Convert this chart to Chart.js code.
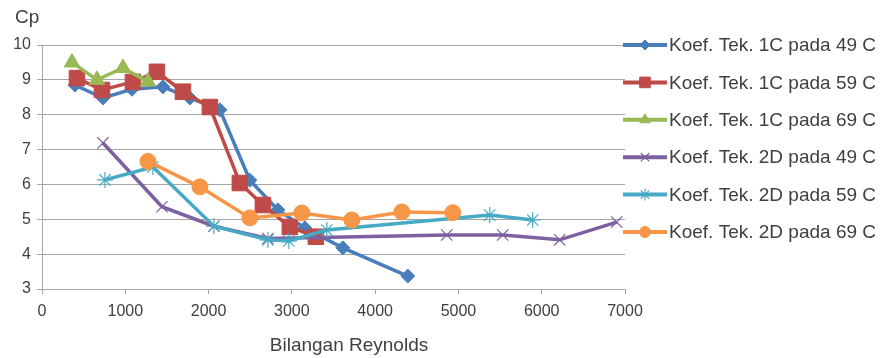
<!DOCTYPE html>
<html>
<head>
<meta charset="utf-8">
<script src="https://cdn.jsdelivr.net/npm/chart.js@4/dist/chart.umd.min.js"></script>
<style>
  body { margin: 0; background: #fff; }
</style>
</head>
<body>
<canvas id="cpChart" width="885" height="358"></canvas>
<script>
// Bilangan Reynolds (x) and Cp (y) for each series
const reyn1C49 = [396, 732, 1080, 1452, 1776, 2136, 2496, 2832, 3156, 3612, 4392];
const cp1C49 = [8.85, 8.48, 8.73, 8.8, 8.48, 8.14, 6.12, 5.27, 4.75, 4.18, 3.37];

const reyn1C59 = [420, 720, 1092, 1380, 1692, 2016, 2376, 2652, 2976, 3288];
const cp1C59 = [9.05, 8.71, 8.94, 9.23, 8.66, 8.22, 6.04, 5.41, 4.78, 4.5];

const reyn1C69 = [360, 660, 972, 1272];
const cp1C69 = [9.5, 9.0, 9.34, 8.95];

const reyn2D49 = [732, 1440, 2064, 2712, 4860, 5532, 6216, 6900];
const cp2D49 = [7.19, 5.36, 4.8, 4.45, 4.55, 4.55, 4.41, 4.92];

const reyn2D59 = [756, 1332, 2064, 2712, 2964, 3420, 5376, 5892];
const cp2D59 = [6.13, 6.5, 4.8, 4.41, 4.38, 4.69, 5.12, 4.98];

const reyn2D69 = [1272, 1896, 2496, 3120, 3720, 4320, 4932];
const cp2D69 = [6.66, 5.93, 5.04, 5.18, 4.98, 5.21, 5.19];

const seriesNames = [
  "Koef. Tek. 1C pada 49 C",
  "Koef. Tek. 1C pada 59 C",
  "Koef. Tek. 1C pada 69 C",
  "Koef. Tek. 2D pada 49 C",
  "Koef. Tek. 2D pada 59 C",
  "Koef. Tek. 2D pada 69 C"
];

const xTicks = [0, 1000, 2000, 3000, 4000, 5000, 6000, 7000];
const yTicks = [3, 4, 5, 6, 7, 8, 9, 10];
const xTitle = "Bilangan Reynolds";
const yTitle = "Cp";

const FONT = '"Liberation Sans", Arial, sans-serif';
const TEXT = "#404040";
const GRID = "#a6a6a6";

// style per series: colour, marker, marker size in plot and in legend
const styles = [
  { color: "#4a7ebb", shape: "rectRot", r: 7, lr: 5, bw: 1 },
  { color: "#be4b48", shape: "rect", r: 11, lr: 7.5, bw: 1 },
  { color: "#98b954", shape: "triangle", r: 9, lr: 6, bw: 1 },
  { color: "#7d60a0", shape: "crossRot", r: 8, lr: 6, bw: 1.2 },
  { color: "#46aac5", shape: "star", r: 8, lr: 6, bw: 1.2 },
  { color: "#f79646", shape: "circle", r: 8, lr: 5.5, bw: 1 }
];

const xsList = [reyn1C49, reyn1C59, reyn1C69, reyn2D49, reyn2D59, reyn2D69];
const ysList = [cp1C49, cp1C59, cp1C69, cp2D49, cp2D59, cp2D69];

const datasets = seriesNames.map((name, i) => {
  const st = styles[i];
  return {
    label: name,
    data: xsList[i].map((x, k) => ({ x: x, y: ysList[i][k] })),
    showLine: true,
    borderColor: st.color,
    backgroundColor: st.color,
    borderWidth: 3.5,
    pointStyle: st.shape,
    pointRadius: st.r,
    pointBorderWidth: st.bw,
    pointBackgroundColor: st.color,
    pointBorderColor: st.color,
    tension: 0,
    order: 5 - i // later series drawn on top, like the original
  };
});

// axis titles and the legend at the right, drawn on the canvas
const extraText = {
  id: "extraText",
  afterDraw(chart) {
    const ctx = chart.ctx;
    ctx.save();
    ctx.font = "19px " + FONT;
    ctx.fillStyle = TEXT;
    ctx.textBaseline = "middle";
    ctx.textAlign = "left";
    ctx.fillText(yTitle, 15, 18);
    ctx.textAlign = "center";
    ctx.fillText(xTitle, 349, 346);

    ctx.textAlign = "left";
    chart.data.datasets.forEach((ds, i) => {
      const st = styles[i];
      const y = 45 + i * 37.4;
      ctx.strokeStyle = st.color;
      ctx.lineWidth = 4;
      ctx.beginPath();
      ctx.moveTo(623, y);
      ctx.lineTo(667, y);
      ctx.stroke();
      ctx.fillStyle = st.color;
      ctx.lineWidth = st.bw;
      Chart.helpers.drawPoint(ctx, {
        pointStyle: st.shape,
        radius: st.lr,
        borderWidth: st.bw,
        rotation: 0
      }, 645, y);
      ctx.fillStyle = TEXT;
      ctx.fillText(ds.label, 669, y + 1);
    });
    ctx.restore();
  }
};

new Chart(document.getElementById("cpChart"), {
  type: "scatter",
  data: { datasets: datasets },
  options: {
    responsive: false,
    animation: false,
    layout: { padding: { top: 45, right: 260, left: 0, bottom: 0 } },
    plugins: {
      legend: { display: false },
      tooltip: { enabled: false }
    },
    scales: {
      x: {
        type: "linear",
        min: xTicks[0],
        max: xTicks[xTicks.length - 1],
        afterBuildTicks: (scale) => { scale.ticks = xTicks.map(v => ({ value: v })); },
        afterFit: (scale) => { scale.height = 69; },
        grid: { drawOnChartArea: false, drawTicks: true, tickLength: 5, color: GRID },
        border: { display: true, color: GRID, width: 1 },
        ticks: {
          color: TEXT,
          font: { family: FONT, size: 16 },
          padding: 8,
          maxRotation: 0,
          callback: (v) => String(v) // no thousands separator
        }
      },
      y: {
        type: "linear",
        min: yTicks[0],
        max: yTicks[yTicks.length - 1],
        afterBuildTicks: (scale) => { scale.ticks = yTicks.map(v => ({ value: v })); },
        afterFit: (scale) => { scale.width = 42; },
        grid: { drawOnChartArea: true, drawTicks: true, tickLength: 5, color: GRID },
        border: { display: true, color: GRID, width: 1 },
        ticks: { color: TEXT, font: { family: FONT, size: 16 }, padding: 6 }
      }
    }
  },
  plugins: [extraText]
});
</script>
</body>
</html>
